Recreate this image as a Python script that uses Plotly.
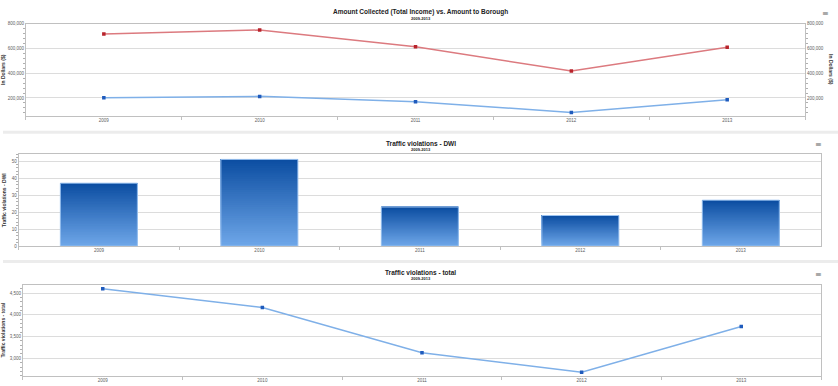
import plotly.graph_objects as go

years = ["2009", "2010", "2011", "2012", "2013"]
amount_collected = [717000, 749000, 613000, 418000, 610000]
amount_to_borough = [202000, 213000, 170000, 83000, 186000]
dwi_violations = [37, 51, 23, 18, 27]
total_violations = [4600, 4170, 3130, 2680, 3735]

W, H = 838, 386
FONT = "Liberation Sans, Arial, sans-serif"
TICKC = "#606060"
GRID = "#dcdcdc"
BORDER = "#c0c0c0"

def px(v):
    return v / W

def py(v):
    return (H - v) / H

fig = go.Figure()

# ---- top chart
fig.add_trace(go.Scatter(
    x=years, y=amount_collected, mode="lines+markers", name="Amount Collected",
    line=dict(color="#dc7a7f", width=1.5), marker=dict(color="#b8232b", size=3.5, symbol="square"),
    xaxis="x", yaxis="y"))
fig.add_trace(go.Scatter(
    x=years, y=amount_to_borough, mode="lines+markers", name="Amount to Borough",
    line=dict(color="#7fb0e8", width=1.5), marker=dict(color="#1f5bbd", size=3.5, symbol="square"),
    xaxis="x", yaxis="y2"))

# ---- middle chart: bars with a vertical gradient (overlapping layers of each bar)
N = 40
top_rgb = (12, 78, 162)
bot_rgb = (110, 166, 232)
for i in range(N):
    t = i / (N - 1)
    c = tuple(round(bot_rgb[k] + (top_rgb[k] - bot_rgb[k]) * t) for k in range(3))
    fig.add_trace(go.Bar(
        x=years, y=[v * (N - i) / N for v in dwi_violations], base=[v * i / N for v in dwi_violations],
        marker=dict(color="rgb(%d,%d,%d)" % c, line=dict(width=0)),
        width=0.48, xaxis="x2", yaxis="y3", showlegend=False, hoverinfo="skip"))
fig.add_trace(go.Bar(
    x=years, y=dwi_violations, base=[0] * len(years), name="DWI",
    marker=dict(color="rgba(0,0,0,0)", line=dict(width=1, color="#9cc3f0")),
    width=0.48, xaxis="x2", yaxis="y3"))

# ---- bottom chart
fig.add_trace(go.Scatter(
    x=years, y=total_violations, mode="lines+markers", name="Total",
    line=dict(color="#7fb0e8", width=1.5), marker=dict(color="#1f5bbd", size=3.5, symbol="square"),
    xaxis="x3", yaxis="y4"))

tickfont = dict(family=FONT, size=4.5, color=TICKC)
titlefont = dict(family=FONT, size=5, color="#333333")

def xax(domain, anchor):
    return dict(domain=domain, anchor=anchor, type="category", tickson="boundaries",
                ticks="outside", ticklen=3, tickcolor=BORDER, tickfont=tickfont,
                showline=True, linecolor=BORDER, linewidth=1, mirror=True,
                showgrid=False, range=[-0.5, 4.5], fixedrange=True)

def yax(domain, anchor, rng, dtick, tick0=0, side="left", fmt=",d", title=""):
    return dict(domain=domain, anchor=anchor, range=rng, dtick=dtick, tick0=tick0,
                side=side, tickformat=fmt, tickfont=tickfont,
                showline=True, linecolor=BORDER, linewidth=1, mirror=True,
                showgrid=True, gridcolor=GRID, gridwidth=1, zeroline=False,
                ticks="", minor=dict(ticks="outside", ticklen=2, tickcolor="#b0b0b0",
                                     dtick=dtick / 5, showgrid=False),
                title=dict(text=("<b>" + title + "</b>") if title else "", font=titlefont, standoff=4),
                fixedrange=True)

top_dom = [py(115.3), py(22)]
mid_dom = [py(247.3), py(154.3)]
bot_dom = [py(378.7), py(286.3)]

layout = dict(
    width=W, height=H, autosize=False,
    margin=dict(l=0, r=0, t=0, b=0),
    paper_bgcolor="white", plot_bgcolor="white",
    showlegend=False, barmode="overlay",
    font=dict(family=FONT),
    xaxis=xax([px(23), px(805)], "y"),
    yaxis=yax(top_dom, "x", [56000, 800000], 200000, title="In Dollars ($)"),
    yaxis2=dict(yax(top_dom, "x", [56000, 800000], 200000, side="right"),
                overlaying="y", showgrid=False),
    xaxis2=xax([px(15.7), px(821)], "y3"),
    yaxis3=yax(mid_dom, "x2", [0, 54], 10, title="Traffic violations - DWI"),
    xaxis3=xax([px(20), px(821)], "y4"),
    yaxis4=yax(bot_dom, "x3", [2598, 4698], 500, tick0=3000, title="Traffic violations - total"),
)
fig.update_layout(**layout)

def note(text, x, y, font, angle=0):
    fig.add_annotation(text=text, xref="paper", yref="paper", x=px(x), y=py(y),
                       xanchor="center", yanchor="middle", textangle=angle,
                       showarrow=False, font=font)

# right-hand axis title of the top chart (reads top to bottom)
note("<b>In Dollars ($)</b>", 831, 68, titlefont, angle=90)

# separators between the three charts
for yy in (132, 263):
    fig.add_shape(type="rect", xref="paper", yref="paper", x0=0, x1=1,
                  y0=py(yy + 1.5), y1=py(yy - 1.5), fillcolor="#ececec", line=dict(width=0))

titles = [
    ("Amount Collected (Total Income) vs. Amount to Borough", 10.5, 16.3, 825, 12),
    ("Traffic violations - DWI", 143.5, 149.3, 818, 144),
    ("Traffic violations - total", 274.5, 280.3, 818, 276),
]
for text, ty, sy, mx, my in titles:
    note("<b>" + text + "</b>", W / 2, ty, dict(family=FONT, size=6.5, color="#222222"))
    note("<b>2009-2013</b>", W / 2, sy, dict(family=FONT, size=4, color="#222222"))
    note("≡", mx, my, dict(family="DejaVu Sans", size=8, color="#666666"))

fig.write_html("out.html", config={"displayModeBar": False},
               post_script="document.body.style.margin='0';document.body.style.overflow='hidden';")
